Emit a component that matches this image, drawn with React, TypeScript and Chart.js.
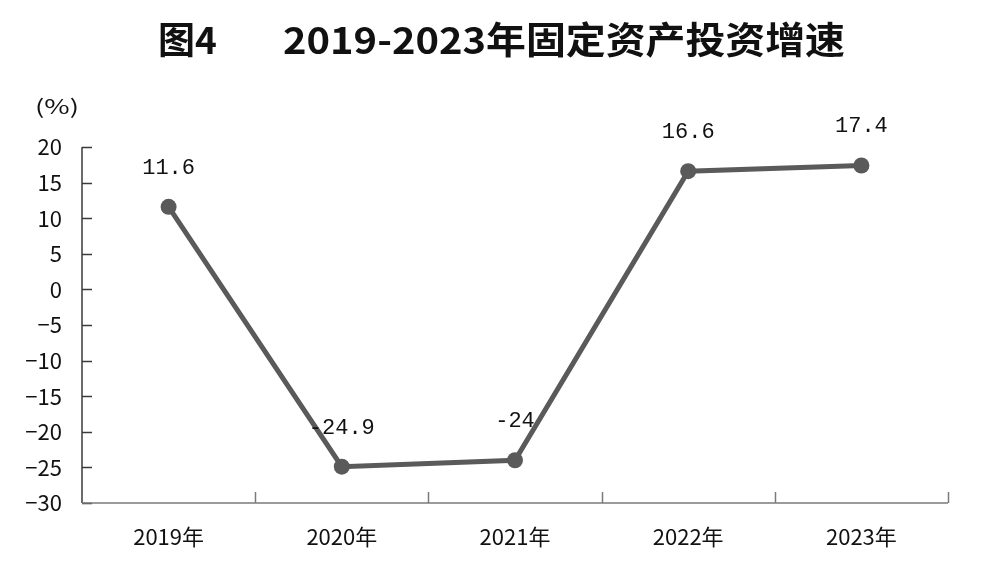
import React, { useEffect, useRef } from "react";
import { Chart, registerables } from "chart.js";

Chart.register(...registerables);

const categories = ["2019年", "2020年", "2021年", "2022年", "2023年"];
const growth = [11.6, -24.9, -24, 16.6, 17.4];
const growthLabels = ["11.6", "-24.9", "-24", "16.6", "17.4"];
const yTicks = [20, 15, 10, 5, 0, -5, -10, -15, -20, -25, -30];
const titlePrefix = "图4";
const titleMain = "2019-2023年固定资产投资增速";
const unitLabel = "(%)";

const LINE_COLOR = "#5a5a5a";

const decorPlugin = {
  id: "decor",
  afterDraw(chart: any) {
    const ctx = chart.ctx;
    const area = chart.chartArea;
    const xs = chart.scales.x;
    const ys = chart.scales.y;
    ctx.save();
    // y axis line + inward ticks
    ctx.strokeStyle = "#3a3a3a";
    ctx.lineWidth = 1.5;
    ctx.beginPath();
    ctx.moveTo(area.left, area.top);
    ctx.lineTo(area.left, area.bottom);
    ctx.stroke();
    yTicks.forEach((v) => {
      const y = Math.round(ys.getPixelForValue(v)) + 0.5;
      ctx.beginPath();
      ctx.moveTo(area.left, y);
      ctx.lineTo(area.left + 10, y);
      ctx.stroke();
    });
    // x axis line + inward ticks at category boundaries
    ctx.strokeStyle = "#7a7a7a";
    ctx.lineWidth = 1.5;
    ctx.beginPath();
    ctx.moveTo(area.left, area.bottom);
    ctx.lineTo(area.right, area.bottom);
    ctx.stroke();
    const n = categories.length;
    for (let i = 1; i <= n; i++) {
      const x = Math.round(
        (xs.getPixelForValue(i - 1) + (i < n ? xs.getPixelForValue(i) : 2 * xs.getPixelForValue(i - 1) - xs.getPixelForValue(i - 2))) / 2
      ) + 0.5;
      ctx.beginPath();
      ctx.moveTo(x, area.bottom);
      ctx.lineTo(x, area.bottom - 11);
      ctx.stroke();
    }
    // data labels
    const meta = chart.getDatasetMeta(0);
    ctx.fillStyle = "#111";
    ctx.font = "22px 'Liberation Mono', 'DejaVu Sans Mono', monospace";
    ctx.textAlign = "center";
    ctx.textBaseline = "middle";
    meta.data.forEach((pt: any, i: number) => {
      ctx.fillText(growthLabels[i], pt.x, pt.y - 39);
    });
    // title
    ctx.fillStyle = "#111";
    ctx.font = "bold 37px 'Noto Sans CJK SC', sans-serif";
    ctx.textAlign = "left";
    ctx.textBaseline = "middle";
    ctx.fillText(titlePrefix, 158, 40);
    const w = ctx.measureText(titleMain).width;
    ctx.save();
    ctx.translate(283, 40);
    ctx.scale(562 / w, 1);
    ctx.fillText(titleMain, 0, 0);
    ctx.restore();
    // unit label
    ctx.font = "20px 'Noto Sans CJK SC', sans-serif";
    ctx.textAlign = "left";
    const uw = ctx.measureText(unitLabel).width;
    ctx.save();
    ctx.translate(35, 106);
    ctx.scale(44 / uw, 1);
    ctx.fillText(unitLabel, 0, 0);
    ctx.restore();
    ctx.restore();
  },
};

export default function App() {
  const ref = useRef<HTMLCanvasElement | null>(null);
  useEffect(() => {
    document.body.style.margin = "0";
    const chart = new Chart(ref.current as HTMLCanvasElement, {
      type: "line",
      data: {
        labels: categories,
        datasets: [
          {
            data: growth,
            borderColor: LINE_COLOR,
            backgroundColor: LINE_COLOR,
            borderWidth: 5,
            pointRadius: 8,
            pointBackgroundColor: LINE_COLOR,
            pointBorderColor: LINE_COLOR,
            pointBorderWidth: 0,
            tension: 0,
          },
        ],
      },
      options: {
        responsive: false,
        animation: false,
        layout: { padding: { left: 0, top: 147, right: 52, bottom: 0 } },
        plugins: { legend: { display: false }, tooltip: { enabled: false }, title: { display: false } },
        scales: {
          x: {
            type: "category",
            offset: true,
            grid: { display: false, drawTicks: false },
            border: { display: false },
            ticks: {
              padding: 20,
              color: "#111",
              font: { family: "'Noto Sans CJK SC', sans-serif", size: 22 },
              maxRotation: 0,
            },
            afterFit: (s: any) => {
              s.height = 68;
            },
          },
          y: {
            min: -30,
            max: 20,
            grid: { display: false, drawTicks: false },
            border: { display: false },
            ticks: {
              stepSize: 5,
              padding: 20,
              color: "#111",
              font: { family: "'Noto Sans CJK SC', sans-serif", size: 22 },
              callback: (v: any) => (Number(v) < 0 ? "−" + Math.abs(Number(v)) : String(v)),
            },
            afterFit: (s: any) => {
              s.width = 82;
            },
          },
        },
      },
      plugins: [decorPlugin],
    });
    return () => chart.destroy();
  }, []);
  return (
    <div style={{ position: "absolute", left: 0, top: 0, width: 1000, height: 571, background: "#fff" }}>
      <canvas ref={ref} width={1000} height={571} style={{ width: 1000, height: 571, display: "block" }} />
    </div>
  );
}
